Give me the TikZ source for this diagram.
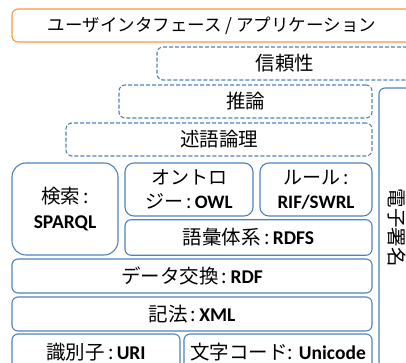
\documentclass[tikz,border=0pt]{standalone}
\usepackage{fontspec}
\setmainfont{Carlito}
\newfontfamily\jp{Noto Sans CJK JP}
\newcommand{\en}[1]{{\rmfamily\bfseries #1}}
\definecolor{layerblue}{RGB}{79,129,189}
\definecolor{uiorange}{RGB}{247,150,70}

\begin{document}
\begin{tikzpicture}[x=1pt, y=-1pt,
    layer/.style={draw=layerblue, line width=1.1pt, rounded corners=6pt, inner sep=0pt,
      align=center, font=\jp\fontsize{19.5}{25}\selectfont},
    planned/.style={layer, dash pattern=on 4pt off 2pt},
  ]
  \path[use as bounding box, clip] (0,0) rectangle (406,363);

  \node[layer, draw=uiorange, minimum width=400pt, minimum height=33pt,
    font=\jp\fontsize{17.5}{20}\selectfont] (ui) at (212,25.5) {ユーザインタフェース / アプリケーション};

  \node[planned, minimum width=256pt, minimum height=33pt] (trust) at (285,63.5) {信頼性};
  \node[planned, minimum width=253pt, minimum height=33pt] (proof) at (245.5,101.5) {推論};
  \node[planned, minimum width=306pt, minimum height=33pt] (logic) at (219,139.5) {述語論理};

  \node[layer, rotate=-90, minimum width=280pt, minimum height=36pt] (crypto) at (397,228) {電子署名};

  \node[layer, rounded corners=14pt, minimum width=106pt, minimum height=92pt] (query) at (65,209) {検索\,:\\\en{SPARQL}};
  \node[layer, rounded corners=9pt, minimum width=128pt, minimum height=53pt,
    font=\jp\fontsize{19}{24}\selectfont] (owl) at (189,189.5) {オントロ\\ジー\,:\,\en{OWL}};
  \node[layer, rounded corners=9pt, minimum width=112pt, minimum height=53pt,
    font=\jp\fontsize{19}{24}\selectfont] (rule) at (316,189.5) {ルール\,:\\\en{RIF/SWRL}};
  \node[layer, minimum width=247pt, minimum height=35.5pt] (rdfs) at (248.5,237.5) {語彙体系\,:\,\en{RDFS}};

  \node[layer, minimum width=360pt, minimum height=34pt] (rdf) at (192,276) {データ交換\,:\,\en{RDF}};
  \node[layer, minimum width=360pt, minimum height=34pt] (xml) at (192,314) {記法\,:\,\en{XML}};

  \node[layer, minimum width=168pt, minimum height=36pt] (uri) at (96,352) {識別子\,:\,\en{URI}};
  \node[layer, minimum width=188pt, minimum height=36pt] (unicode) at (278,352) {文字コード: \en{Unicode}};
\end{tikzpicture}
\end{document}
